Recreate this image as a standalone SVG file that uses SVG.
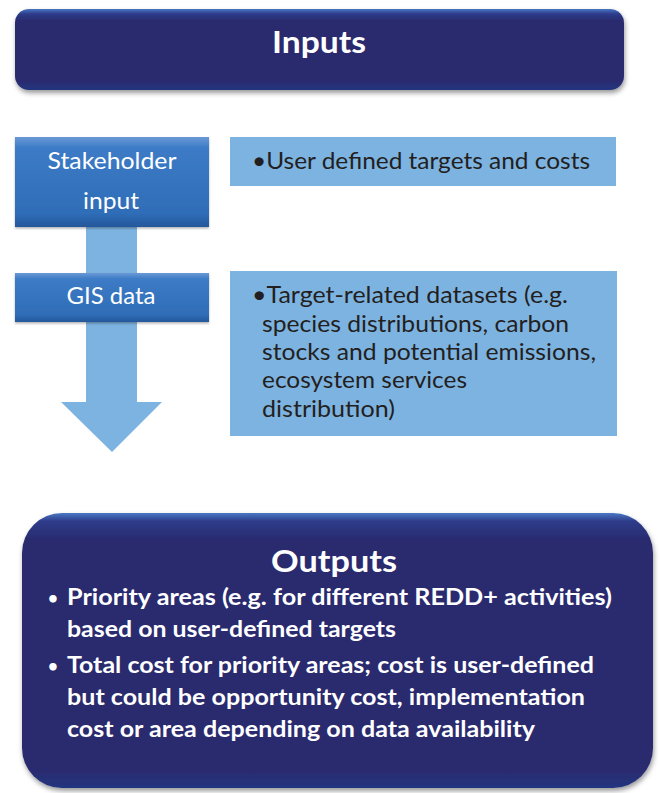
<svg xmlns="http://www.w3.org/2000/svg" width="660" height="793" viewBox="0 0 660 793">
<style>
.title{font-family:Lato,"Open Sans","Liberation Sans",sans-serif;font-weight:bold;fill:#ffffff}
.wt{font-family:Lato,"Open Sans","Liberation Sans",sans-serif;font-size:23px;fill:#ffffff;text-anchor:middle}
.dk{font-family:Lato,"Open Sans","Liberation Sans",sans-serif;font-size:23.5px;fill:#231f20}
.ot{font-family:Lato,"Open Sans","Liberation Sans",sans-serif;font-size:22px;font-weight:bold;fill:#ffffff}
.bl{font-family:Lato,"Open Sans","Liberation Sans",sans-serif;font-size:17px;font-weight:bold;fill:#ffffff}
.light{fill:#7db3e0}
</style>
<defs>
<linearGradient id="navy" x1="0" y1="0" x2="0" y2="1">
<stop offset="0" stop-color="#4a78c4"/>
<stop offset="0.06" stop-color="#2d3c8a"/>
<stop offset="0.15" stop-color="#2b2a6e"/>
<stop offset="0.88" stop-color="#2b2a6e"/>
<stop offset="1" stop-color="#23357f"/>
</linearGradient>
<linearGradient id="navy2" x1="0" y1="0" x2="0" y2="1">
<stop offset="0" stop-color="#4a78c4"/>
<stop offset="0.03" stop-color="#2d3c8a"/>
<stop offset="0.1" stop-color="#2b2a6e"/>
<stop offset="0.93" stop-color="#2b2a6e"/>
<stop offset="1" stop-color="#23357f"/>
</linearGradient>
<linearGradient id="mid" x1="0" y1="0" x2="0" y2="1">
<stop offset="0" stop-color="#6a9ad6"/>
<stop offset="0.12" stop-color="#3d7bc6"/>
<stop offset="0.85" stop-color="#2f6db7"/>
<stop offset="1" stop-color="#24579a"/>
</linearGradient>
<filter id="sh" x="-5%" y="-10%" width="110%" height="125%">
<feDropShadow dx="1" dy="3" stdDeviation="2.5" flood-color="#000" flood-opacity="0.4"/>
</filter>
<filter id="sh2" x="-5%" y="-10%" width="110%" height="130%">
<feDropShadow dx="0" dy="1.5" stdDeviation="1" flood-color="#000" flood-opacity="0.3"/>
</filter>
</defs>

<g id="connectors">
<rect class="light" x="86" y="225" width="51" height="178"/>
<polygon class="light" points="61,402 162,402 112,452"/>
</g>

<g id="inputs">
<rect x="15" y="9" width="609" height="81" rx="14" fill="url(#navy)" filter="url(#sh)"/>
<text class="title" x="319" y="53" font-size="30" text-anchor="middle" textLength="94" lengthAdjust="spacingAndGlyphs">Inputs</text>
</g>

<g id="stakeholder">
<rect x="15" y="137" width="194" height="90" fill="url(#mid)" filter="url(#sh2)"/>
<text class="wt" x="112" y="169" textLength="129" lengthAdjust="spacingAndGlyphs">Stakeholder</text>
<text class="wt" x="111" y="209" textLength="56" lengthAdjust="spacingAndGlyphs">input</text>
</g>

<g id="gis">
<rect x="15" y="273" width="194" height="49" fill="url(#mid)" filter="url(#sh2)"/>
<text class="wt" x="111" y="304" textLength="89" lengthAdjust="spacingAndGlyphs">GIS data</text>
</g>

<g id="targets">
<rect class="light" x="230" y="137" width="386" height="49"/>
<text class="dk" x="252" y="169" textLength="338" lengthAdjust="spacingAndGlyphs">•User defined targets and costs</text>
</g>

<g id="datasets">
<rect class="light" x="230" y="271" width="387" height="165"/>
<text class="dk" x="252" y="303" textLength="316" lengthAdjust="spacingAndGlyphs">•Target-related datasets (e.g.</text>
<text class="dk" x="262" y="332" textLength="307" lengthAdjust="spacingAndGlyphs">species distributions, carbon</text>
<text class="dk" x="262" y="360" textLength="334" lengthAdjust="spacingAndGlyphs">stocks and potential emissions,</text>
<text class="dk" x="262" y="388" textLength="205" lengthAdjust="spacingAndGlyphs">ecosystem services</text>
<text class="dk" x="262" y="417" textLength="133" lengthAdjust="spacingAndGlyphs">distribution)</text>
</g>

<g id="outputs">
<rect x="22" y="513" width="631" height="275" rx="40" fill="url(#navy2)" filter="url(#sh)"/>
<text class="title" x="334" y="572" font-size="31" text-anchor="middle" textLength="126" lengthAdjust="spacingAndGlyphs">Outputs</text>
<text class="bl" x="48" y="604">•</text>
<text class="ot" x="67" y="605" textLength="545" lengthAdjust="spacingAndGlyphs">Priority areas (e.g. for different REDD+ activities)</text>
<text class="ot" x="67" y="637" textLength="329" lengthAdjust="spacingAndGlyphs">based on user-defined targets</text>
<text class="bl" x="48" y="672">•</text>
<text class="ot" x="67" y="673" textLength="527" lengthAdjust="spacingAndGlyphs">Total cost for priority areas; cost is user-defined</text>
<text class="ot" x="67" y="705" textLength="518" lengthAdjust="spacingAndGlyphs">but could be opportunity cost, implementation</text>
<text class="ot" x="67" y="737" textLength="468" lengthAdjust="spacingAndGlyphs">cost or area depending on data availability</text>
</g>
</svg>
